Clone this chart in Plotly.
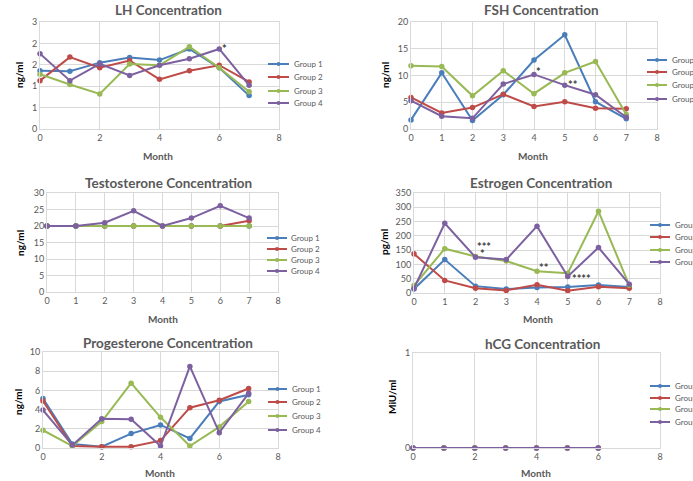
import plotly.graph_objects as go

W, H = 693, 481

months = [0, 1, 2, 3, 4, 5, 6, 7]
hcg_months = [0, 1, 2, 3, 4, 5, 6]
groups = ["Group 1", "Group 2", "Group 3", "Group 4"]
colors = ["#4A7EBB", "#BE4B48", "#98B954", "#7D60A0"]

lh_g1 = [1.36, 1.35, 1.55, 1.67, 1.61, 1.87, 1.43, 0.78]
lh_g2 = [1.13, 1.68, 1.43, 1.60, 1.16, 1.36, 1.49, 1.10]
lh_g3 = [1.28, 1.04, 0.82, 1.52, 1.49, 1.92, 1.43, 0.87]
lh_g4 = [1.76, 1.13, 1.52, 1.25, 1.49, 1.64, 1.87, 1.02]
lh_ticktext = ["0", "1", "1", "2", "2", "3"]

fsh_g1 = [1.7, 10.5, 1.6, 6.4, 12.9, 17.6, 5.1, 1.9]
fsh_g2 = [5.9, 3.0, 4.0, 6.5, 4.2, 5.1, 3.9, 3.8]
fsh_g3 = [11.8, 11.7, 6.2, 10.9, 6.6, 10.5, 12.6, 2.7]
fsh_g4 = [5.3, 2.4, 2.0, 8.4, 10.2, 8.2, 6.4, 2.2]

tes_g1 = [20, 20, 20, 20, 20, 20, 20, 20]
tes_g2 = [20, 20, 20, 20, 20, 20, 20, 21.6]
tes_g3 = [20, 20, 20, 20, 20, 20, 20, 20]
tes_g4 = [20, 20, 21, 24.6, 20, 22.4, 26.1, 22.4]

est_g1 = [14, 117, 24, 14, 19, 21, 28, 21]
est_g2 = [137, 44, 17, 9, 29, 8, 22, 17]
est_g3 = [26, 155, 128, 112, 76, 69, 286, 27]
est_g4 = [16, 244, 125, 117, 234, 58, 159, 31]

pro_g1 = [5.16, 0.42, 0.14, 1.5, 2.4, 1.0, 4.85, 5.55]
pro_g2 = [4.9, 0.2, 0.14, 0.14, 0.77, 4.2, 4.97, 6.2]
pro_g3 = [1.85, 0.2, 2.75, 6.75, 3.2, 0.2, 2.2, 4.85]
pro_g4 = [3.95, 0.3, 3.05, 3.0, 0.2, 8.5, 1.6, 5.7]

hcg_g1 = [0, 0, 0, 0, 0, 0, 0]
hcg_g2 = [0, 0, 0, 0, 0, 0, 0]
hcg_g3 = [0, 0, 0, 0, 0, 0, 0]
hcg_g4 = [0, 0, 0, 0, 0, 0, 0]

FONT = "Lato"
GRAY = "#595959"
GRID = "#D9D9D9"


def px(x):
    return x / W


def py(y):
    return 1 - y / H


panels = [
    dict(title="LH Concentration", ytitle="ng/ml", x=months, series=[lh_g1, lh_g2, lh_g3, lh_g4],
         dom=(40, 279, 22, 129), yr=[0, 2.5], ydt=0.5, yticktext=lh_ticktext, xdt=2,
         tpos=(168, 10), mpos=(158, 156), ypos=(19, 75),
         leg=(268, 289, 292, [64, 77, 91, 103]),
         stars=[(6.19, 1.89, "*")]),
    dict(title="FSH Concentration", ytitle="ng/ml", x=months, series=[fsh_g1, fsh_g2, fsh_g3, fsh_g4],
         dom=(411, 657, 22, 129), yr=[0, 20], ydt=5, yticktext=None, xdt=1,
         tpos=(541, 10), mpos=(533, 156), ypos=(385, 75),
         leg=(647, 667, 670, [60, 72, 85, 99]),
         stars=[(4.16, 10.8, "*"), (5.26, 8.35, "**")]),
    dict(title="Testosterone Concentration", ytitle="ng/ml", x=months, series=[tes_g1, tes_g2, tes_g3, tes_g4],
         dom=(47, 278, 193, 292), yr=[0, 30], ydt=5, yticktext=None, xdt=1,
         tpos=(168, 183), mpos=(163, 319), ypos=(20, 243),
         leg=(267, 287, 289, [238, 249, 260, 271]),
         stars=[]),
    dict(title="Estrogen Concentration", ytitle="pg/ml", x=months, series=[est_g1, est_g2, est_g3, est_g4],
         dom=(414, 660, 193, 293), yr=[0, 350], ydt=50, yticktext=None, xdt=1,
         tpos=(541, 183), mpos=(538, 319), ypos=(384, 242),
         leg=(650, 670, 673, [225, 237, 250, 262]),
         stars=[(2.28, 164, "***"), (2.24, 139, "*"), (4.23, 89, "**"), (5.46, 50, "****")]),
    dict(title="Progesterone Concentration", ytitle="ng/ml", x=months, series=[pro_g1, pro_g2, pro_g3, pro_g4],
         dom=(43, 278, 352, 448), yr=[0, 10], ydt=2, yticktext=None, xdt=2,
         tpos=(168, 343), mpos=(160, 473), ypos=(18, 402),
         leg=(268, 287, 290, [389, 402, 416, 430]),
         stars=[]),
    dict(title="hCG Concentration", ytitle="MiU/ml", x=hcg_months, series=[hcg_g1, hcg_g2, hcg_g3, hcg_g4],
         dom=(413, 660, 353, 448), yr=[0, 1], ydt=1, yticktext=None, xdt=2,
         tpos=(542, 344), mpos=(536, 473), ypos=(392, 397),
         leg=(650, 670, 673, [386, 398, 409, 422]),
         stars=[]),
]

fig = go.Figure()
annotations = []
shapes = []

for i, p in enumerate(panels):
    n = "" if i == 0 else str(i + 1)
    xa, ya = "x" + n, "y" + n
    x0, x1, y0, y1 = p["dom"]
    for g, (vals, c) in enumerate(zip(p["series"], colors)):
        fig.add_trace(go.Scatter(
            x=p["x"], y=vals, mode="lines+markers", name=groups[g],
            line=dict(color=c, width=2), marker=dict(color=c, size=5.5),
            xaxis=xa, yaxis=ya, showlegend=False, cliponaxis=False))
    xaxis = dict(domain=[px(x0), px(x1)], range=[0, 8], dtick=p["xdt"], tick0=0,
                 showgrid=True, gridcolor=GRID, gridwidth=1, zeroline=False,
                 showline=True, linecolor=GRID, mirror=True, ticks="",
                 tickfont=dict(family=FONT, size=9, color=GRAY), anchor=ya)
    yaxis = dict(domain=[py(y1), py(y0)], range=p["yr"], dtick=p["ydt"], tick0=0,
                 showgrid=True, gridcolor=GRID, gridwidth=1, zeroline=False,
                 showline=True, linecolor=GRID, mirror=True, ticks="",
                 tickfont=dict(family=FONT, size=9, color=GRAY), anchor=xa)
    if p["yticktext"] is not None:
        yaxis.update(tickmode="array",
                     tickvals=[k * p["ydt"] for k in range(len(p["yticktext"]))],
                     ticktext=p["yticktext"])
    fig.update_layout({"xaxis" + n: xaxis, "yaxis" + n: yaxis})

    # titles
    annotations.append(dict(text="<b>" + p["title"] + "</b>", x=px(p["tpos"][0]), y=py(p["tpos"][1]),
                            xref="paper", yref="paper", showarrow=False, xanchor="center", yanchor="middle",
                            font=dict(family=FONT, size=13.5, color=GRAY)))
    annotations.append(dict(text="<b>Month</b>", x=px(p["mpos"][0]), y=py(p["mpos"][1]),
                            xref="paper", yref="paper", showarrow=False, xanchor="center", yanchor="middle",
                            font=dict(family=FONT, size=10, color=GRAY)))
    annotations.append(dict(text="<b>" + p["ytitle"] + "</b>", x=px(p["ypos"][0]), y=py(p["ypos"][1]),
                            xref="paper", yref="paper", showarrow=False, xanchor="center", yanchor="middle",
                            textangle=-90, font=dict(family=FONT, size=10, color="#000000")))
    # significance marks
    for sx, sy, st in p["stars"]:
        annotations.append(dict(text="<b>" + st + "</b>", x=sx, y=sy, xref=xa, yref=ya,
                                showarrow=False, xanchor="center", yanchor="middle",
                                font=dict(family=FONT, size=11, color="#404040")))
    # legend
    lx0, lx1, tx, ys = p["leg"]
    for g, (c, yy) in enumerate(zip(colors, ys)):
        shapes.append(dict(type="line", xref="paper", yref="paper",
                           x0=px(lx0), x1=px(lx1), y0=py(yy), y1=py(yy),
                           line=dict(color=c, width=2)))
        mx = (lx0 + lx1) / 2
        shapes.append(dict(type="circle", xref="paper", yref="paper",
                           x0=px(mx - 2), x1=px(mx + 2), y0=py(yy + 2), y1=py(yy - 2),
                           fillcolor=c, line=dict(color=c, width=0)))
        annotations.append(dict(text=groups[g], x=px(tx), y=py(yy), xref="paper", yref="paper",
                                showarrow=False, xanchor="left", yanchor="middle",
                                font=dict(family=FONT, size=8, color=GRAY)))

fig.update_layout(
    width=W, height=H,
    margin=dict(l=0, r=0, t=0, b=0, autoexpand=False),
    paper_bgcolor="white", plot_bgcolor="white",
    showlegend=False,
    annotations=annotations, shapes=shapes,
)

fig.write_html("out.html")
